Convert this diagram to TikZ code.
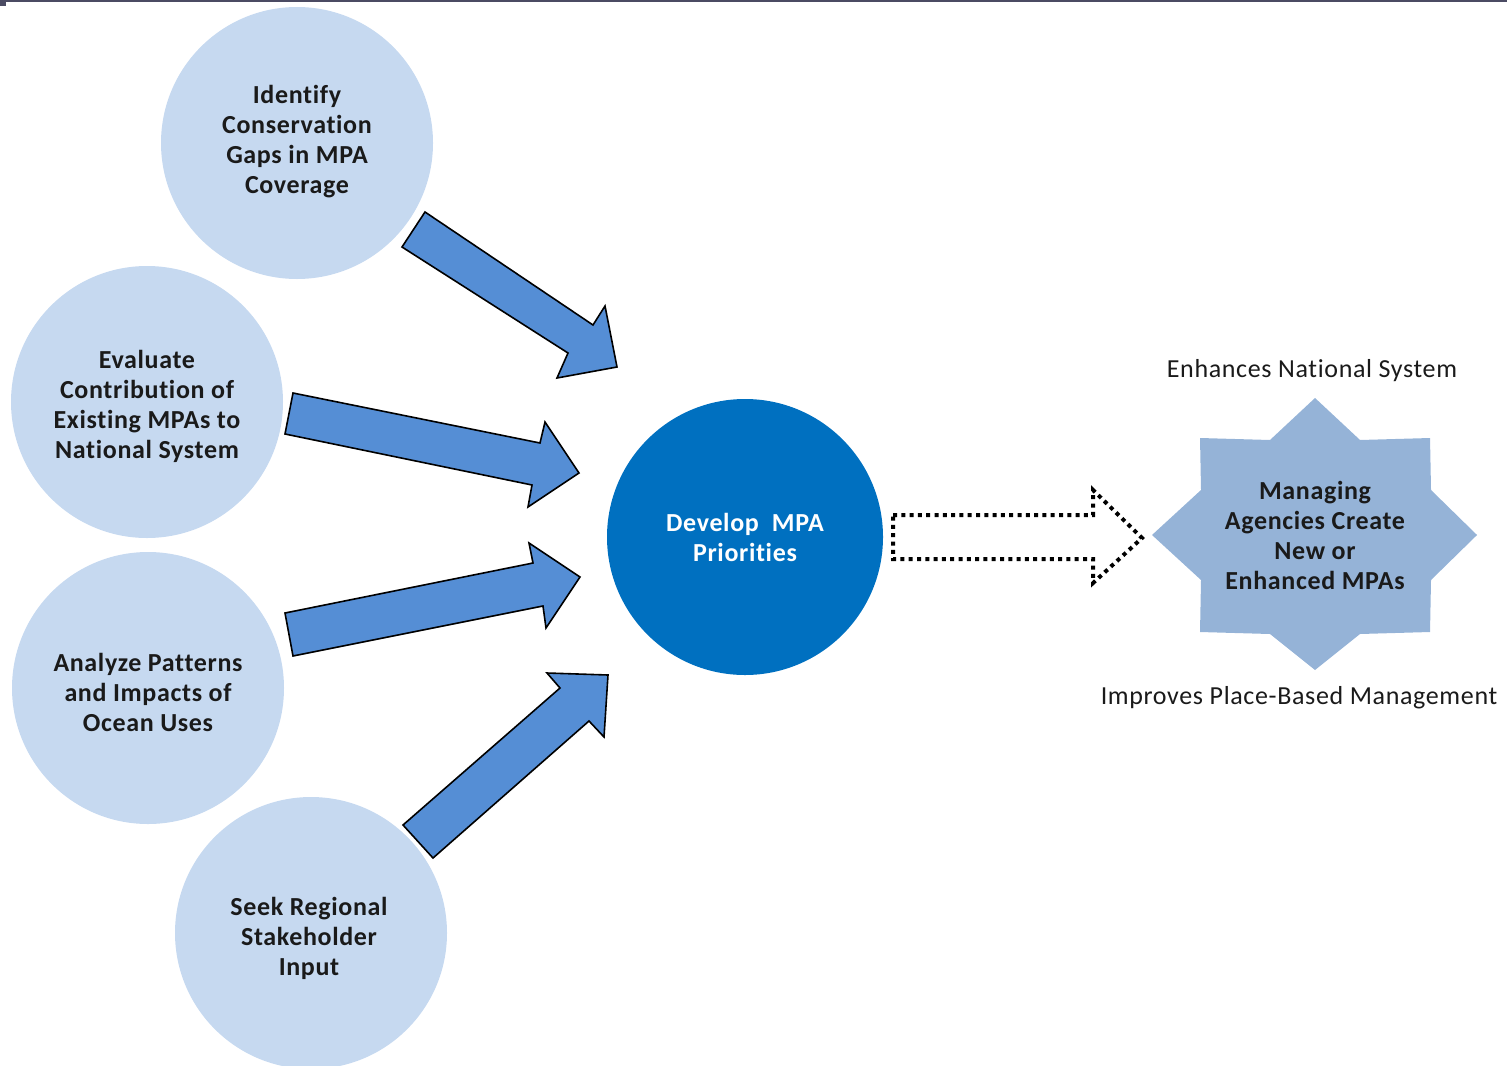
\documentclass[tikz,border=0pt]{standalone}
\usepackage{fontspec}
\setmainfont{Carlito}[LetterSpace=2.5,Ligatures=NoCommon]
\definecolor{lightcirc}{HTML}{C6D9F0}
\definecolor{darkcirc}{HTML}{0070C0}
\definecolor{arrowblue}{HTML}{558ED5}
\definecolor{starblue}{HTML}{95B3D7}
\definecolor{topbar}{HTML}{4B4B63}
\definecolor{textdark}{HTML}{1A1A1A}
\tikzset{
  inputcirc/.style={circle, fill=lightcirc, minimum size=136pt, inner sep=0pt,
    align=center, font=\fontsize{13}{15}\selectfont\bfseries, text=textdark},
  maincirc/.style={circle, fill=darkcirc, minimum size=138pt, inner sep=0pt,
    align=center, font=\fontsize{13}{15}\selectfont\bfseries, text=white},
  blockarrow/.style={fill=arrowblue, draw=black, line width=0.8pt, line join=miter},
  dotarrow/.style={draw=black, line width=2pt, dash pattern=on 2pt off 2.15pt, line join=miter},
  sidelabel/.style={font=\fontsize{13}{15}\selectfont, text=textdark},
  startext/.style={align=center, font=\fontsize{13}{15}\selectfont\bfseries, text=textdark}
}
\begin{document}
\begin{tikzpicture}[x=0.5pt,y=-0.5pt]
\useasboundingbox (0,0) rectangle (1507,1065);
\clip (0,0) rectangle (1507,1065);
% top bar
\fill[topbar] (0,0) rectangle (1507,2.5);
\fill[topbar] (0,0) rectangle (6,6);
% input circles
\node[inputcirc] (gaps) at (297,143) {};
\node[startext] at (297,142) {Identify\\Conservation\\Gaps in MPA\\Coverage};
\node[inputcirc] (eval) at (147,402) {};
\node[startext] at (147,406) {Evaluate\\Contribution of\\Existing MPAs to\\National System};
\node[inputcirc] (uses) at (148,688) {};
\node[startext] at (148,692) {Analyze Patterns\\and Impacts of\\Ocean Uses};
\node[inputcirc] (seek) at (311,933) {};
\node[startext] at (309,938) {Seek Regional\\Stakeholder\\Input};
% main circle
\node[maincirc] (dev) at (745,537) {};
\node[startext, text=white] at (745,537) {Develop\ \ MPA\\Priorities};
% block arrows
\draw[blockarrow] (425,212) -- (593,325) -- (605,306) -- (617,367) -- (557,378) -- (568,353) -- (402,247) -- cycle;
\draw[blockarrow] (293,393) -- (540,443) -- (545,422) -- (579,473) -- (528,507) -- (532,485) -- (285,434) -- cycle;
\draw[blockarrow] (285,613) -- (533,563) -- (529,543) -- (580,577) -- (546,628) -- (543,606) -- (293,656) -- cycle;
\draw[blockarrow] (403,825) -- (560,688) -- (547,673) -- (608,675) -- (604,737) -- (589,721) -- (433,858) -- cycle;
% dotted arrow
\draw[dotarrow] (893,515) -- (1093,515) -- (1093,490) -- (1142,538) -- (1093,583) -- (1093,559) -- (893,559) -- cycle;
% star
\fill[starblue] (1315,398) -- (1360,440) -- (1430,438) -- (1431,490) -- (1477,535) -- (1431,580)
  -- (1430,632) -- (1360,634) -- (1315,670) -- (1270,634) -- (1200,632) -- (1201,580)
  -- (1152,535) -- (1201,490) -- (1200,438) -- (1270,440) -- cycle;
\node[startext] (star) at (1315,535) {Managing\\Agencies Create\\New or\\Enhanced MPAs};
% labels
\node[sidelabel] (enh) at (1312,371) {Enhances National System};
\node[sidelabel] (imp) at (1299,698) {Improves Place-Based Management};
\end{tikzpicture}
\end{document}
